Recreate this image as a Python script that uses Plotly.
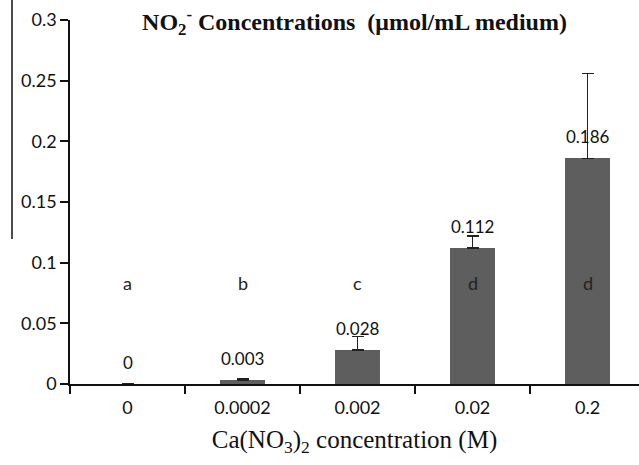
import plotly.graph_objects as go

categories = ["0", "0.0002", "0.002", "0.02", "0.2"]
means = [0, 0.003, 0.028, 0.112, 0.186]
errors = [None, 0.001, 0.011, 0.010, 0.070]
value_labels = ["0", "0.003", "0.028", "0.112", "0.186"]
letters = ["a", "b", "c", "d", "d"]
letter_level = 0.083
y_ticks = [0, 0.05, 0.1, 0.15, 0.2, 0.25, 0.3]

W, H = 639, 465
ML, MR, MT, MB = 70, 0, 20, 81
cat_px = 115.0
x_max = (W - ML - MR) / cat_px - 0.5

xs = list(range(len(categories)))
sans = "Lato"
serif = "Liberation Serif"

fig = go.Figure()
fig.add_trace(go.Bar(
    x=xs, y=means, width=0.39,
    marker=dict(color="#5e5e5e", line=dict(width=0)),
    error_y=dict(type="data", array=errors, arrayminus=[0] * len(errors),
                 symmetric=False, visible=True,
                 color="#222222", thickness=1.5, width=6),
    showlegend=False, hoverinfo="skip",
))

annotations = []
for i, (m, lab, let) in enumerate(zip(means, value_labels, letters)):
    annotations.append(dict(x=i, y=m, xref="x", yref="y", text=lab,
                            showarrow=False, yshift=22, yanchor="middle",
                            font=dict(family=sans, size=17, color="#111111")))
    annotations.append(dict(x=i, y=letter_level, xref="x", yref="y", text=let,
                            showarrow=False, yanchor="middle",
                            font=dict(family=sans, size=18, color="#222222")))

fig.update_layout(
    width=W, height=H,
    margin=dict(l=ML, r=MR, t=MT, b=MB),
    paper_bgcolor="white", plot_bgcolor="white",
    bargap=0,
    title=dict(text="NO<sub>2</sub><sup>-</sup> Concentrations  (μmol/mL medium)",
               x=0.5, xref="paper", xanchor="center",
               y=1 - 22 / H, yref="container", yanchor="middle",
               font=dict(family=serif, size=24, color="#111111", weight="bold")),
    annotations=annotations,
    shapes=[dict(type="line", xref="paper", yref="paper",
                 x0=(12 - ML) / (W - ML - MR), x1=(12 - ML) / (W - ML - MR),
                 y0=(H - MB - 239) / (H - MT - MB), y1=(H - MB) / (H - MT - MB),
                 line=dict(color="#111111", width=1.5))],
    xaxis=dict(
        range=[-0.5, x_max],
        tickmode="array", tickvals=xs, ticktext=categories,
        ticks="", showgrid=False, zeroline=False,
        showline=True, linecolor="#111111", linewidth=1.5,
        ticklabelstandoff=7,
        tickfont=dict(family=sans, size=18, color="#111111"),
        minor=dict(tick0=-0.5, dtick=1, ticks="outside", ticklen=8,
                   tickwidth=1.5, tickcolor="#111111", showgrid=False),
        title=dict(text="Ca(NO<sub>3</sub>)<sub>2</sub> concentration (M)",
                   font=dict(family=serif, size=25, color="#111111"),
                   standoff=13),
        automargin=False,
    ),
    yaxis=dict(
        range=[0, 0.3], tickmode="array", tickvals=y_ticks,
        ticktext=[f"{v:g}" for v in y_ticks],
        ticks="outside", ticklen=8, tickwidth=1.5, tickcolor="#111111",
        showgrid=False, zeroline=False,
        showline=True, linecolor="#111111", linewidth=1.5,
        tickfont=dict(family=sans, size=18, color="#111111"),
        automargin=False,
    ),
)

fig.write_html("out.html", config={"displayModeBar": False},
               post_script="document.body.style.margin='0';")
